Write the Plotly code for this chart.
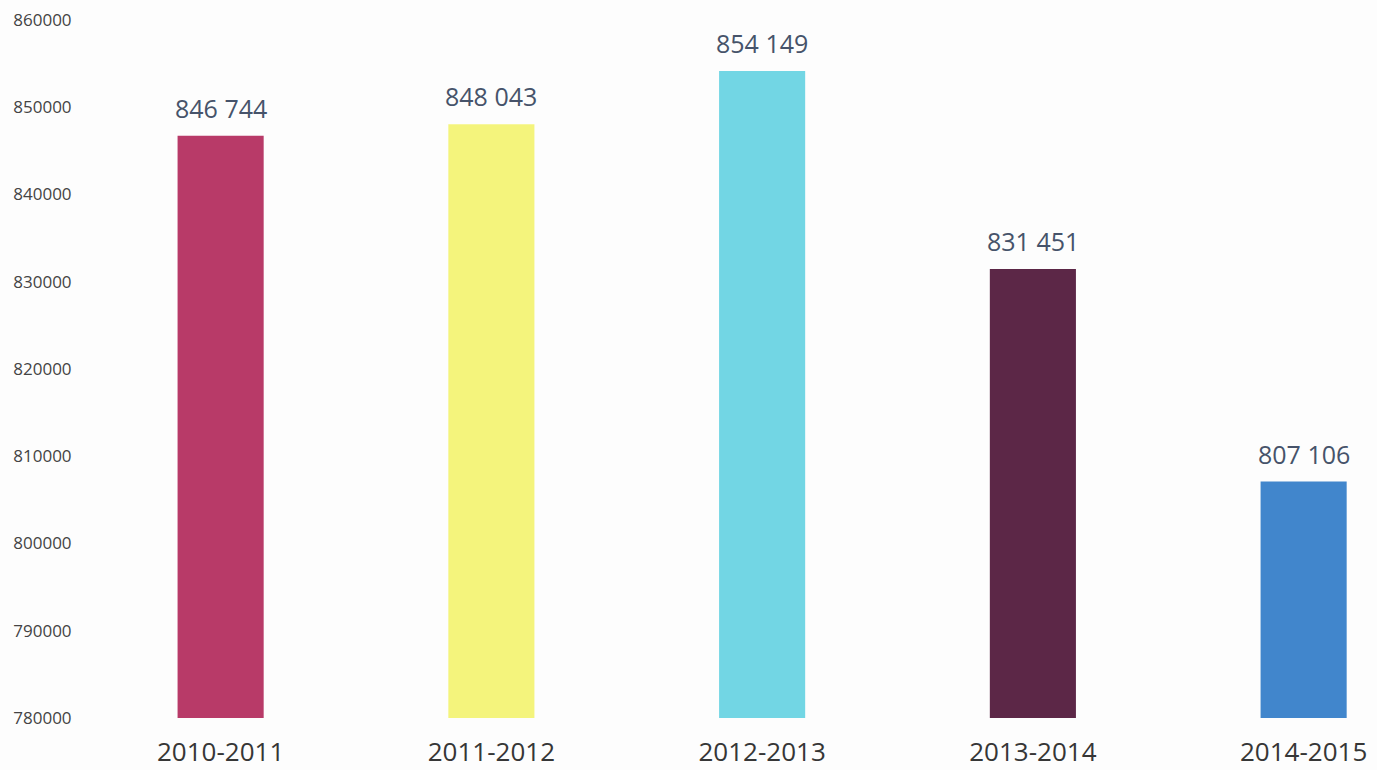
import plotly.graph_objects as go

categories = ["2010-2011", "2011-2012", "2012-2013", "2013-2014", "2014-2015"]
values = [846744, 848043, 854149, 831451, 807106]
value_labels = ["846 744", "848 043", "854 149", "831 451", "807 106"]
bar_colors = ["#b83a68", "#f4f47c", "#72d6e4", "#5c2747", "#4186cc"]
y_ticks = [780000, 790000, 800000, 810000, 820000, 830000, 840000, 850000, 860000]

fig = go.Figure()
fig.add_trace(go.Bar(
    x=categories, y=values, base=0,
    marker=dict(color=bar_colors, line=dict(width=0)),
    width=0.318, hoverinfo="skip",
))

for c, v, t in zip(categories, values, value_labels):
    fig.add_annotation(x=c, y=v, text=t, showarrow=False, yanchor="bottom", yshift=9,
                       font=dict(family="Open Sans", size=25, color="#46536a"))

fig.update_layout(
    width=1377, height=770,
    margin=dict(l=82, r=0, t=20, b=52),
    paper_bgcolor="#fdfdfd", plot_bgcolor="#fdfdfd",
    showlegend=False,
    xaxis=dict(range=[-0.512, 4.271], showgrid=False, zeroline=False, showline=False,
               automargin=False,
               ticks="outside", ticklen=11, tickcolor="rgba(0,0,0,0)",
               tickfont=dict(family="Open Sans", size=26, color="#363636")),
    yaxis=dict(range=[780000, 860000], tickvals=y_ticks, ticktext=[str(v) for v in y_ticks],
               showgrid=False, zeroline=False, showline=False, automargin=False,
               ticks="outside", ticklen=6, tickcolor="rgba(0,0,0,0)",
               tickfont=dict(family="Open Sans", size=17, color="#444444")),
)

fig.write_html("out.html")
